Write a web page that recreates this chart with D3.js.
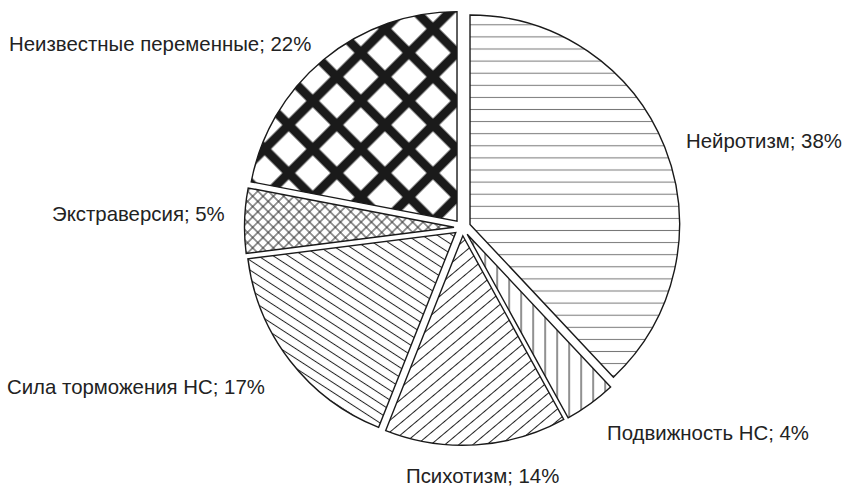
<!DOCTYPE html>
<html><head><meta charset="utf-8">
<script src="https://cdn.jsdelivr.net/npm/d3@7"></script>
<style>body{margin:0;background:#fff}svg{display:block}</style>
</head><body>
<svg id="c" width="843" height="488"></svg>
<script>
const categories = ["Нейротизм","Подвижность НС","Психотизм","Сила торможения НС","Экстраверсия","Неизвестные переменные"];
const values = [38, 4, 14, 17, 5, 22];
const fillIds = ["pHoriz","pVert","pDiagUp","pDiagDown","pCrossThin","pCrossThick"];

// label layout (text start x, baseline y)
const labelPos = [[686,148],[607,440],[406,483],[7,394],[52,221],[9,51]];

const W = 843, H = 488, cx = 462.3, cy = 227.5, R = 209.5, explode = 8.3;
const svg = d3.select("#c");
const defs = svg.append("defs");

function linePattern(id, spacing, angle, sw, color, cross) {
  const p = defs.append("pattern").attr("id", id).attr("patternUnits","userSpaceOnUse")
    .attr("width", spacing).attr("height", spacing)
    .attr("patternTransform", `rotate(${angle})`);
  p.append("rect").attr("width", spacing).attr("height", spacing).attr("fill","#fff");
  p.append("line").attr("x1",-1).attr("x2",spacing+1).attr("y1",spacing/2).attr("y2",spacing/2)
    .attr("stroke",color).attr("stroke-width",sw);
  if (cross) p.append("line").attr("y1",-1).attr("y2",spacing+1).attr("x1",spacing/2).attr("x2",spacing/2)
    .attr("stroke",color).attr("stroke-width",sw);
}
linePattern("pHoriz", 12.1, 0, 1, "#777", false);
linePattern("pVert", 12, 90, 1, "#222", false);
linePattern("pDiagUp", 9, -40, 1, "#222", false);
linePattern("pDiagDown", 8.2, 33, 1, "#222", false);
linePattern("pCrossThin", 7.3, 45, 1, "#333", true);
linePattern("pCrossThick", 34, 45, 9, "#1a1a1a", true);

const pie = d3.pie().sort(null).value(d => d).startAngle(0).endAngle(2*Math.PI);
const arcs = pie(values);
const arc = d3.arc().innerRadius(0).outerRadius(R);

const g = svg.append("g").attr("transform", `translate(${cx},${cy})`);
g.selectAll("path").data(arcs).join("path")
  .attr("d", arc)
  .attr("transform", d => {
    const a = (d.startAngle + d.endAngle) / 2;
    return `translate(${Math.sin(a)*explode},${-Math.cos(a)*explode})`;
  })
  .attr("fill", (d,i) => `url(#${fillIds[i]})`)
  .attr("stroke", "#1a1a1a").attr("stroke-width", 1.4).attr("stroke-linejoin","miter");

svg.selectAll("text.lbl").data(categories).join("text")
  .attr("class","lbl")
  .attr("x", (d,i) => labelPos[i][0]).attr("y", (d,i) => labelPos[i][1])
  .attr("font-family","Liberation Sans, Arial, sans-serif").attr("font-size", 20.4)
  .attr("fill","#222")
  .text((d,i) => `${d}; ${values[i]}%`);
</script>
</body></html>
